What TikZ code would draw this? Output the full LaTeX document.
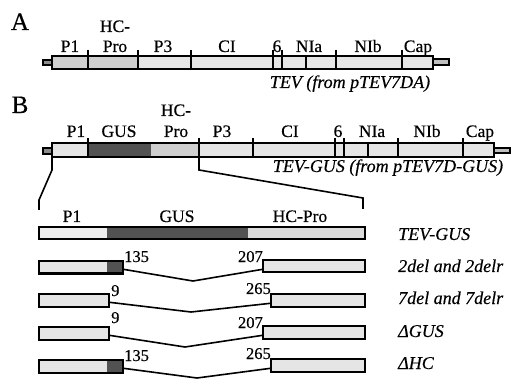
\documentclass[tikz,border=0pt]{standalone}
\usepackage{fontspec}
\setmainfont{Liberation Serif}[FakeBold=0.4]
\usetikzlibrary{positioning}

\tikzset{
  lbl/.style={font=\fontsize{17.5}{17.5}\selectfont, anchor=base, inner sep=0pt},
  nam/.style={font=\fontsize{18}{18}\selectfont\itshape, anchor=base, inner sep=0pt},
  num/.style={font=\fontsize{16.5}{16.5}\selectfont, inner sep=0pt},
  bar/.style={draw, line width=2pt},
  tick/.style={line width=2pt},
  link/.style={line width=1.6pt},
  box/.style={inner sep=0pt, outer sep=0pt, minimum height=12.5pt, anchor=north west},
  lite/.style={fill=black!10},
  mid/.style={fill=black!19},
  dark/.style={fill=black!68}
}

\begin{document}
\begin{tikzpicture}[x=1pt, y=-1pt]
            \useasboundingbox (0,0) rectangle (511,379);

            % panel A
            \node[font=\fontsize{25}{25}\selectfont, anchor=base, inner sep=0pt] (panA) at (20,30) {A};
            \draw[bar, fill=black!45] (43,60) rectangle (52,65);
            \draw[bar, mid] (52,56) rectangle (138,69);
            \draw[bar, lite] (138,56) rectangle (433,69);
            \draw[bar, fill=black!25] (433,59) rectangle (449,65);
            \foreach \x in {88,138,191,273,282,336,402}
              \draw[tick] (\x,50) -- (\x,69);
            \draw[tick] (306,56) -- (306,69);
            \node[lbl] (a1) at (70,52) {P1};
            \node[lbl] (a2) at (115,32) {HC-};
            \node[lbl] (a3) at (115,52) {Pro};
            \node[lbl] (a4) at (163,52) {P3};
            \node[lbl] (a5) at (227,52) {CI};
            \node[lbl] (a6) at (277,52) {6};
            \node[lbl] (a7) at (309,52) {NIa};
            \node[lbl] (a8) at (368,52) {NIb};
            \node[lbl] (a9) at (418,52) {Cap};
            \node[nam] (tevA) at (350,88) {TEV (from pTEV7DA)};

            % panel B
            \node[font=\fontsize{25}{25}\selectfont, anchor=base, inner sep=0pt] (panB) at (20,113) {B};
            \draw[bar, fill=black!45] (43,148) rectangle (52,154);
            \draw[bar, lite] (52,143) rectangle (494,157);
            \fill[dark] (88,143) rectangle (151,157);
            \fill[mid] (151,143) rectangle (199,157);
            \draw[bar] (52,143) rectangle (494,157);
            \draw[bar, fill=black!25] (494,148) rectangle (510,153);
            \foreach \x in {88,199,253,335,344,398,463}
              \draw[tick] (\x,138) -- (\x,157);
            \draw[tick] (368,143) -- (368,157);
            \node[lbl] (b1) at (76,137) {P1};
            \node[lbl] (b2) at (119,137) {GUS};
            \node[lbl] (b3) at (176,116) {HC-};
            \node[lbl] (b4) at (176,137) {Pro};
            \node[lbl] (b5) at (222,137) {P3};
            \node[lbl] (b6) at (290,137) {CI};
            \node[lbl] (b7) at (338,137) {6};
            \node[lbl] (b8) at (372,137) {NIa};
            \node[lbl] (b9) at (427,137) {NIb};
            \node[lbl] (b10) at (480,137) {Cap};
            \node[nam] (tevB) at (388,172) {TEV-GUS (from pTEV7D-GUS)};

            % zoom lines
            \coordinate (zl) at (52,158);
            \coordinate (zr) at (199,158);
            \draw[link] (zl) -- (52,170) -- (39,200) -- (39,210);
            \draw[link] (zr) -- (199,170) -- (363,198) -- (363,209);

            % expanded bar
            \node[box, fill=black!7, minimum width=68pt] (e1) at (39,227) {};
            \node[box, dark, minimum width=141pt, right=0pt of e1] (e2) {};
            \node[box, fill=black!14, minimum width=117pt, right=0pt of e2] (e3) {};
            \draw[bar] (e1.north west) rectangle (e3.south east);
            \node[lbl] (c1) at (72,222) {P1};
            \node[lbl] (c2) at (177,222) {GUS};
            \node[lbl] (c3) at (300,222) {HC-Pro};

            % 2del
            \node[box, lite, minimum width=68pt] (p2) at (39,261) {};
            \node[box, dark, minimum width=16pt, right=0pt of p2] (g2) {};
            \draw[bar] (p2.north west) rectangle (g2.south east);
            \node[box, lite, minimum width=102pt] (h2) at (263,260) {};
            \draw[bar] (h2.north west) rectangle (h2.south east);
            \coordinate (v2) at (193,281);
            \draw[link] ([yshift=-2pt]g2.east) -- (v2) -- ([yshift=-3pt]h2.west);
            \node[num, anchor=base west] (n2a) at (124,262) {135};
            \node[num, anchor=base east] (n2b) at (263,262) {207};

            % 7del
            \node[box, lite, minimum width=70pt] (p3) at (39,294) {};
            \draw[bar] (p3.north west) rectangle (p3.south east);
            \node[box, lite, minimum width=94pt] (h3) at (271,294) {};
            \draw[bar] (h3.north west) rectangle (h3.south east);
            \coordinate (v3) at (191,312);
            \draw[link] ([yshift=-2pt]p3.east) -- (v3) -- ([yshift=-3pt]h3.west);
            \node[num, anchor=base west] (n3a) at (111,296) {9};
            \node[num, anchor=base east] (n3b) at (271,294) {265};

            % dGUS
            \node[box, lite, minimum width=70pt] (p4) at (39,327) {};
            \draw[bar] (p4.north west) rectangle (p4.south east);
            \node[box, lite, minimum width=102pt] (h4) at (263,326) {};
            \draw[bar] (h4.north west) rectangle (h4.south east);
            \coordinate (v4) at (185,347);
            \draw[link] ([yshift=-2pt]p4.east) -- (v4) -- ([yshift=-3pt]h4.west);
            \node[num, anchor=base west] (n4a) at (111,323) {9};
            \node[num, anchor=base east] (n4b) at (263,328) {207};

            % dHC
            \node[box, lite, minimum width=68pt] (p5) at (39,360) {};
            \node[box, dark, minimum width=16pt, right=0pt of p5] (g5) {};
            \draw[bar] (p5.north west) rectangle (g5.south east);
            \node[box, lite, minimum width=94pt] (h5) at (271,359) {};
            \draw[bar] (h5.north west) rectangle (h5.south east);
            \coordinate (v5) at (197,378);
            \draw[link] ([yshift=-2pt]g5.east) -- (v5) -- ([yshift=-3pt]h5.west);
            \node[num, anchor=base west] (n5a) at (124,361) {135};
            \node[num, anchor=base east] (n5b) at (271,359) {265};

            % names
            \node[nam, anchor=base west] (m1) at (398,240) {TEV-GUS};
            \node[nam, anchor=base west] (m2) at (398,272) {2del and 2delr};
            \node[nam, anchor=base west] (m3) at (398,304) {7del and 7delr};
            \node[nam, anchor=base west] (m4) at (398,337) {ΔGUS};
            \node[nam, anchor=base west] (m5) at (398,369) {ΔHC};
        \end{tikzpicture}
\end{document}
